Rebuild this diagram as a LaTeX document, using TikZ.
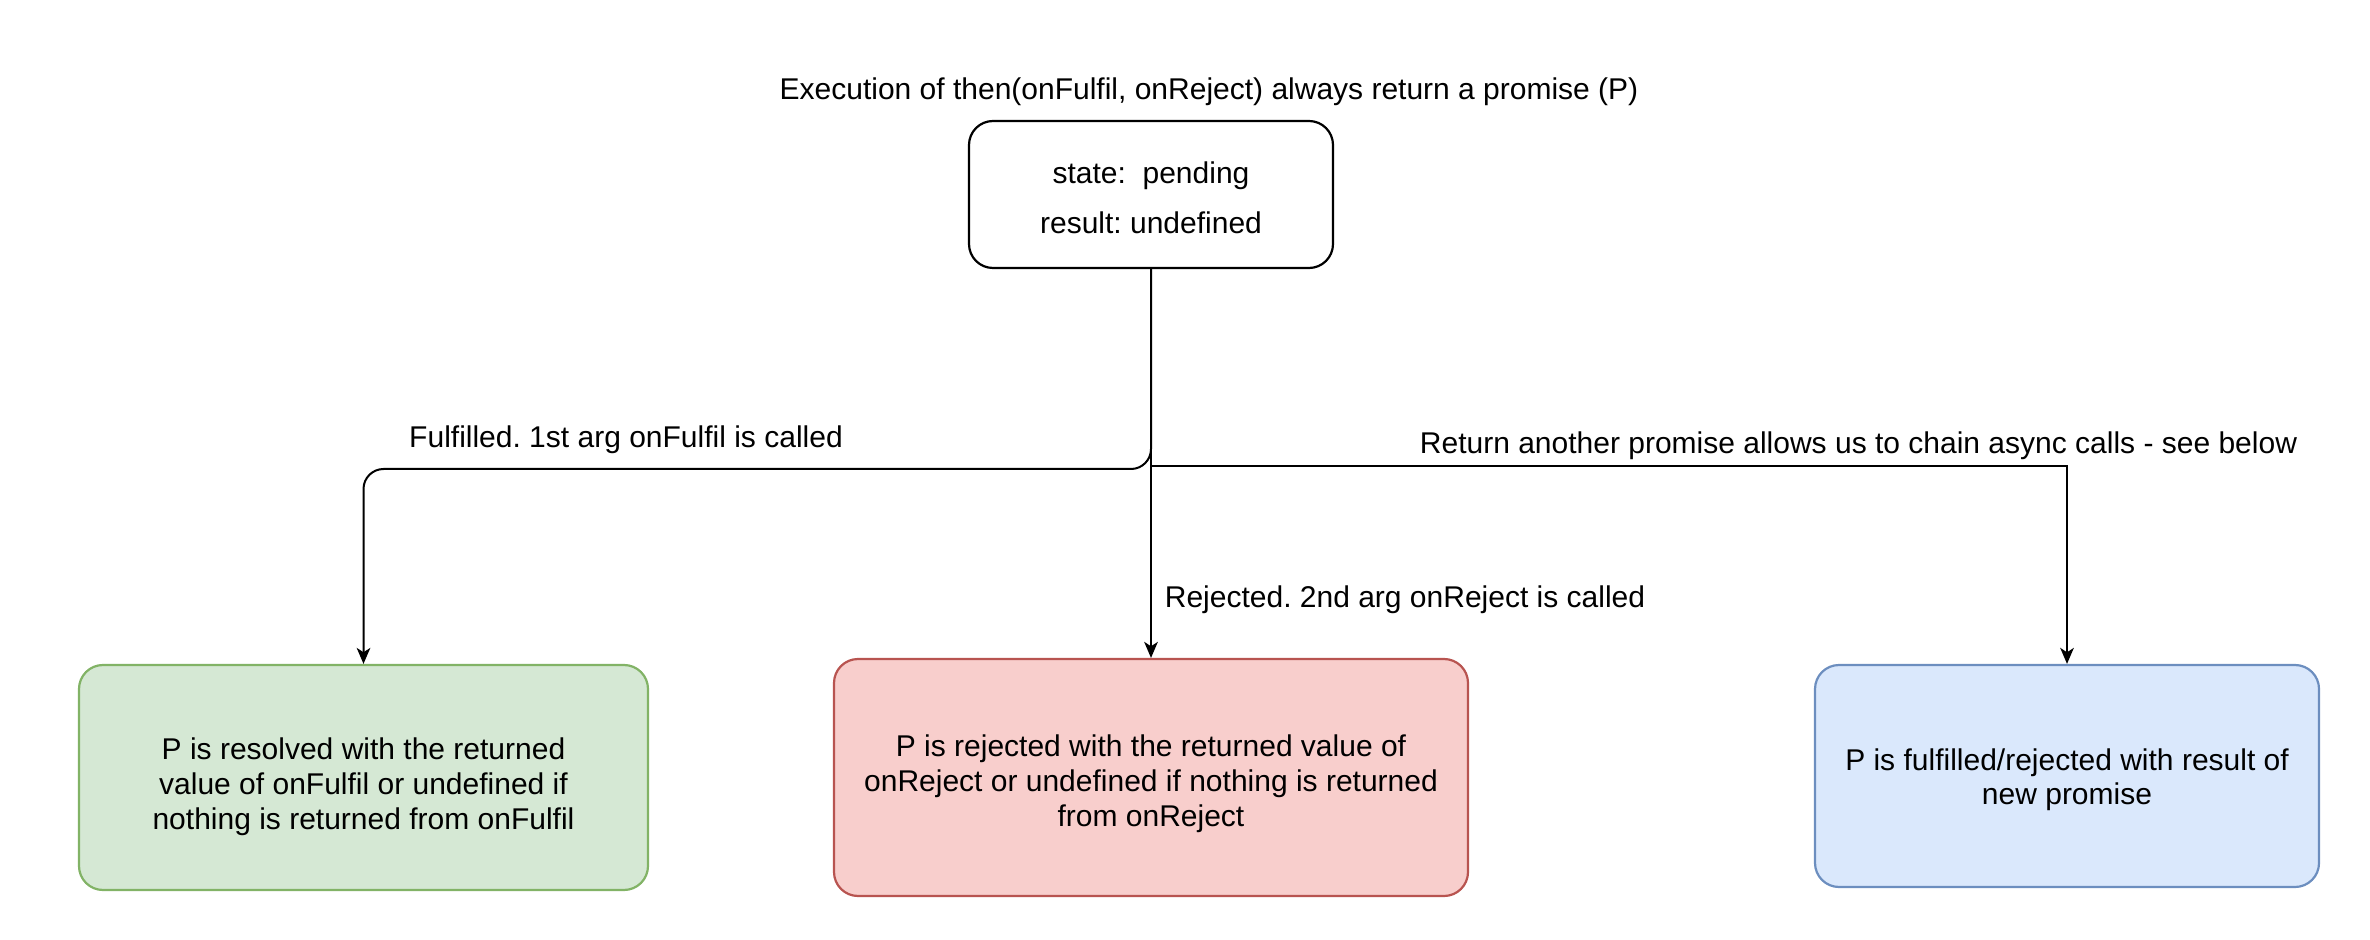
\documentclass[tikz,border=0pt]{standalone}
\usepackage{fontspec}
\setmainfont{Liberation Sans}
\frenchspacing
\usetikzlibrary{arrows.meta}
\definecolor{gfill}{HTML}{D5E8D4}\definecolor{gdraw}{HTML}{82B366}
\definecolor{rfill}{HTML}{F8CECC}\definecolor{rdraw}{HTML}{B85450}
\definecolor{bfill}{HTML}{DAE8FC}\definecolor{bdraw}{HTML}{6C8EBF}
\tikzset{
  box/.style={draw, rounded corners=12pt, line width=1.1pt, align=center, inner sep=0pt,
    font=\fontsize{15}{17.4}\selectfont},
  lbl/.style={inner sep=0pt, font=\fontsize{15}{17}\selectfont},
  arr/.style={line width=1pt, -{Stealth[length=8pt, width=6.8pt, inset=2.2pt]}},
}
\begin{document}
\begin{tikzpicture}[x=0.5pt, y=-0.5pt]
\useasboundingbox (0,0) rectangle (2370,940);
\node[lbl] (title) at (1209,92) {Execution of then(onFulfil, onReject) always return a promise (P)};
\node[box, fill=white, minimum width=182pt, minimum height=73.5pt, font=\fontsize{15}{25}\selectfont] (top) at (1151,194.5)
  {\rule{0pt}{13.9pt}state:\ \ pending\\result: undefined};
\node[box, fill=gfill, draw=gdraw, minimum width=284.5pt, minimum height=112.5pt] (green) at (363.5,777.5)
  {\rule{0pt}{19.9pt}P is resolved with the returned\\value of onFulfil or undefined if\\nothing is returned from onFulfil};
\node[box, fill=rfill, draw=rdraw, minimum width=317pt, minimum height=118.5pt] (red) at (1151,777.5)
  {\rule{0pt}{17.4pt}P is rejected with the returned value of\\onReject or undefined if nothing is returned\\from onReject};
\node[box, fill=bfill, draw=bdraw, minimum width=252pt, minimum height=111pt] (blue) at (2067,776)
  {\rule{0pt}{14.7pt}P is fulfilled/rejected with result of\\new promise};
\coordinate (jl) at (1151,469);
\coordinate (jr) at (1151,466);
\draw[arr, rounded corners=10pt] (top.south) -- (jl) -| (green.north);
\draw[arr] (top.south) -- (red.north);
\draw[arr] (jr) -| (blue.north);
\node[lbl] (lf) at (626,440) {Fulfilled. 1st arg onFulfil is called};
\node[lbl] (lr) at (1405,600) {Rejected. 2nd arg onReject is called};
\node[lbl] (lp) at (1858.5,446) {Return another promise allows us to chain async calls - see below};
\end{tikzpicture}
\end{document}
